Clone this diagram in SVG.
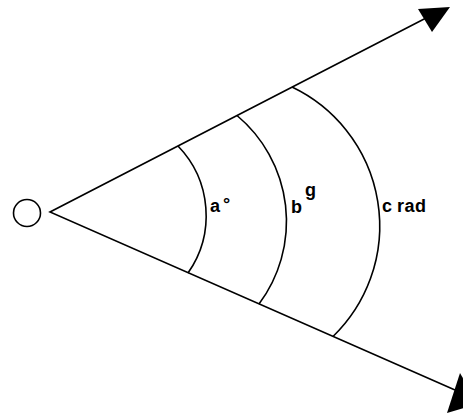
<svg xmlns="http://www.w3.org/2000/svg" width="463" height="414" viewBox="0 0 463 414">
<style>
.ln{fill:none;stroke:#000;stroke-width:1.6}
.ah{fill:#000;stroke:none}
.lbl{font-family:"Liberation Sans",Arial,sans-serif;font-size:18px;font-weight:bold;fill:#000}
</style>
<rect width="463" height="414" fill="#fff"/>
<g id="origin">
<circle cx="27" cy="213" r="13.5" class="ln"/>
</g>
<g id="connectors">
<path class="ln" d="M428,17 L50,212 L455,390"/>
<polygon class="ah" points="418,9 450,7 432,32"/>
<polygon class="ah" points="460,373 447,413 478,404"/>
</g>
<g id="arc-a">
<path class="ln" d="M178,146 A100,100 0 0 1 188,273"/>
<text class="lbl" x="210" y="212">a</text>
<text class="lbl" x="223" y="210" font-size="25" font-weight="normal">°</text>
</g>
<g id="arc-b">
<path class="ln" d="M237,115.5 A138,138 0 0 1 259,304"/>
<text class="lbl" x="291" y="213">b</text>
<text class="lbl" x="305" y="196" font-size="16">g</text>
</g>
<g id="arc-c">
<path class="ln" d="M292,87 A154,154 0 0 1 333,336.5"/>
<text class="lbl" x="382" y="212">c <tspan letter-spacing="0.5">rad</tspan></text>
</g>
</svg>
